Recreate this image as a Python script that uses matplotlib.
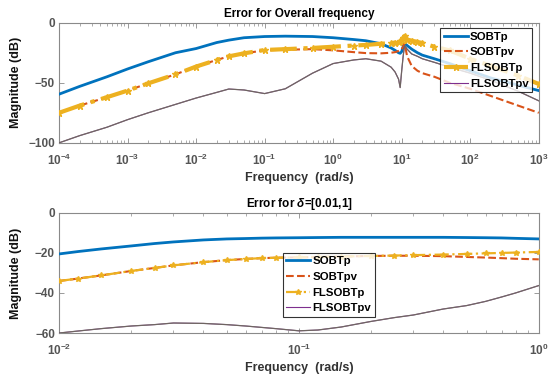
import numpy as np
import matplotlib
matplotlib.use('Agg')
import matplotlib.pyplot as plt
from matplotlib.ticker import LogLocator, FixedLocator, NullFormatter

plt.rcParams['font.family'] = ['Liberation Sans', 'DejaVu Sans']
plt.rcParams['font.weight'] = 'bold'
plt.rcParams['mathtext.fontset'] = 'custom'
plt.rcParams['mathtext.rm'] = 'Liberation Sans:bold'
plt.rcParams['mathtext.bf'] = 'Liberation Sans:bold'
plt.rcParams['mathtext.it'] = 'Liberation Sans:italic'
plt.rcParams['mathtext.default'] = 'bf'

# ---- data ----
labels = ['SOBTp', 'SOBTpv', 'FLSOBTp', 'FLSOBTpv']

# top panel: whole frequency range
w_top = [1e-4, 2e-4, 5e-4, 1e-3, 2e-3, 5e-3, 1e-2, 2e-2, 3e-2, 5e-2, 0.1, 0.2, 0.5,
         1, 2, 3, 5, 7, 8, 9, 9.5, 10, 10.5, 11, 12, 14, 17, 20, 30, 50, 100, 200, 500, 1000]
sobtp_top = [-59.5, -53, -45, -38.5, -32.5, -25, -21.5, -16.5, -14.5, -12.5, -11.5, -11.2, -11.5,
             -12.5, -14, -15, -17.5, -21, -23, -25, -25.5, -24, -20, -17, -19, -22, -25, -27,
             -30, -34, -40, -46, -52, -56.5]
sobtpv_top = [-75, -69, -62, -56.5, -50.5, -43, -36.5, -31, -28, -25.5, -23, -22.5, -22,
              -23, -24.5, -25.3, -25.5, -25, -24.5, -23.5, -23, -22, -20, -17, -28, -36, -40, -42,
              -45, -50, -55, -61, -69, -75]
flsobtp_top = [-75, -69, -62, -56.5, -50.5, -43, -36.5, -31, -28, -25.5, -22.7, -22, -21,
               -20, -19, -18.5, -17.5, -17, -16.5, -16, -15.5, -14, -12.5, -11, -14, -15, -16, -17,
               -20, -23, -30, -36, -44, -51]
flsobtpv_top = [-100, -94, -87, -80.7, -75, -68, -62.7, -58, -55.2, -56, -59, -55, -42,
                -34, -31, -30, -32, -37, -41, -47, -54, -40, -28, -19, -22, -26, -28, -30,
                -33, -37, -42, -48, -57, -65]
decades_top = [1e-4, 1e-3, 1e-2, 1e-1, 1e0, 1e1, 1e2, 1e3]

# bottom panel: delta = [0.01, 1]
w_bot = [0.01, 0.012, 0.015, 0.02, 0.025, 0.03, 0.04, 0.05, 0.06, 0.07, 0.08, 0.1,
         0.12, 0.15, 0.2, 0.25, 0.3, 0.4, 0.5, 0.6, 0.7, 0.8, 1.0]
sobtp_bot = [-20.5, -19.3, -18, -16.5, -15.3, -14.5, -13.5, -13, -12.8, -12.6, -12.5, -12.4,
             -12.3, -12.2, -12.2, -12.2, -12.2, -12.2, -12.3, -12.4, -12.5, -12.7, -13]
sobtpv_bot = [-34, -32.8, -31.2, -29, -27.5, -26.2, -24.6, -23.6, -23, -22.6, -22.4, -22.2,
              -22, -21.8, -21.5, -21.4, -21.4, -21.6, -22, -22.3, -22.6, -22.9, -23.2]
flsobtp_bot = [-34, -32.8, -31.2, -29, -27.5, -26.2, -24.6, -23.6, -23, -22.6, -22.4, -22.2,
               -22, -21.8, -21.5, -21.3, -21.1, -20.8, -20.5, -20.2, -20, -19.8, -19.5]
flsobtpv_bot = [-60, -59, -57.8, -56.5, -55.8, -55, -55.2, -55.8, -56.5, -57.2, -57.8, -58.9,
                -58.5, -57, -54.2, -52.3, -51, -48, -46.3, -44.2, -42, -40, -36.3]
decades_bot = [1e-2, 1e-1, 1e0]

c_blue = '#0072BD'
c_orange = '#D95319'
c_yellow = '#EDB120'
c_purple = '#7E2F8E'
c_olive = '#6a7256'
tick_col = '#555555'
spine_col = '#8a8a8a'

fig = plt.figure(figsize=(5.52, 3.85), dpi=100)
ax1 = fig.add_axes([0.107, 0.629, 0.869, 0.312])
ax2 = fig.add_axes([0.107, 0.135, 0.869, 0.312])


def draw(ax, w, s1, s2, s3, s4, yellow_lw, ms):
    ax.semilogx(w, s1, '-', color=c_blue, lw=2.0, label=labels[0], zorder=3)
    ax.semilogx(w, s2, '--', color=c_orange, lw=1.5, label=labels[1], zorder=4)
    ax.semilogx(w, s3, '-.', color=c_yellow, lw=yellow_lw, marker='*', ms=ms,
                label=labels[2], zorder=5)
    ax.semilogx(w, s4, '-', color=c_purple, lw=0.8, label=labels[3], zorder=6)
    ax.semilogx(w, s4, '-', color=c_olive, lw=0.9, alpha=0.8, zorder=7)


draw(ax1, w_top, sobtp_top, sobtpv_top, flsobtp_top, flsobtpv_top, 3.0, 5)
draw(ax2, w_bot, sobtp_bot, sobtpv_bot, flsobtp_bot, flsobtpv_bot, 1.6, 4)

ax1.set_xlim(1e-4, 1e3)
ax1.set_ylim(-100, 0)
ax1.yaxis.set_major_locator(FixedLocator([-100, -50, 0]))
ax1.xaxis.set_major_locator(FixedLocator(decades_top))
ax2.set_xlim(1e-2, 1)
ax2.set_ylim(-60, 0)
ax2.yaxis.set_major_locator(FixedLocator([-60, -40, -20, 0]))
ax2.xaxis.set_major_locator(FixedLocator(decades_bot))

for ax in (ax1, ax2):
    ax.xaxis.set_minor_locator(LogLocator(base=10, subs=np.arange(2, 10), numticks=20))
    ax.xaxis.set_minor_formatter(NullFormatter())
    ax.tick_params(which='both', direction='in', top=True, right=True,
                   colors=spine_col, labelcolor=tick_col, labelsize=8.5)
    ax.tick_params(axis='y', pad=3)
    ax.tick_params(axis='x', pad=7)
    ax.tick_params(which='major', length=3.5, width=0.6)
    ax.tick_params(which='minor', length=2, width=0.5)
    for sp in ax.spines.values():
        sp.set_color(spine_col)
        sp.set_linewidth(0.8)
    ax.set_ylabel('Magnitude (dB)', fontsize=9, fontweight='bold', color='#111111')
    ax.yaxis.set_label_coords(-0.078, 0.5)
    ax.set_xlabel('Frequency  (rad/s)', fontsize=9, fontweight='bold', color='#333333', labelpad=3)
    for t in ax.get_yticklabels():
        t.set_fontweight('bold')

ax1.set_title('Error for Overall frequency', fontsize=8.5, fontweight='bold', pad=4)
ax2.set_title(r'Error for $\mathit{\delta}$=[0.01,1]', fontsize=8.5, fontweight='bold', pad=4)

leg_kw = dict(fontsize=8.2, frameon=True, fancybox=False, edgecolor='black',
              handlelength=2.1, handletextpad=0.2, borderpad=0.3, labelspacing=0.5,
              borderaxespad=0)
l1 = ax1.legend(loc='upper right', bbox_to_anchor=(0.986, 0.955), **leg_kw)
l2 = ax2.legend(loc='upper left', bbox_to_anchor=(0.467, 0.667), **leg_kw)
for lg in (l1, l2):
    lg.get_frame().set_linewidth(0.8)
    lg.set_zorder(10)
    for t in lg.get_texts():
        t.set_fontweight('bold')

fig.savefig('out.png', dpi=100)
